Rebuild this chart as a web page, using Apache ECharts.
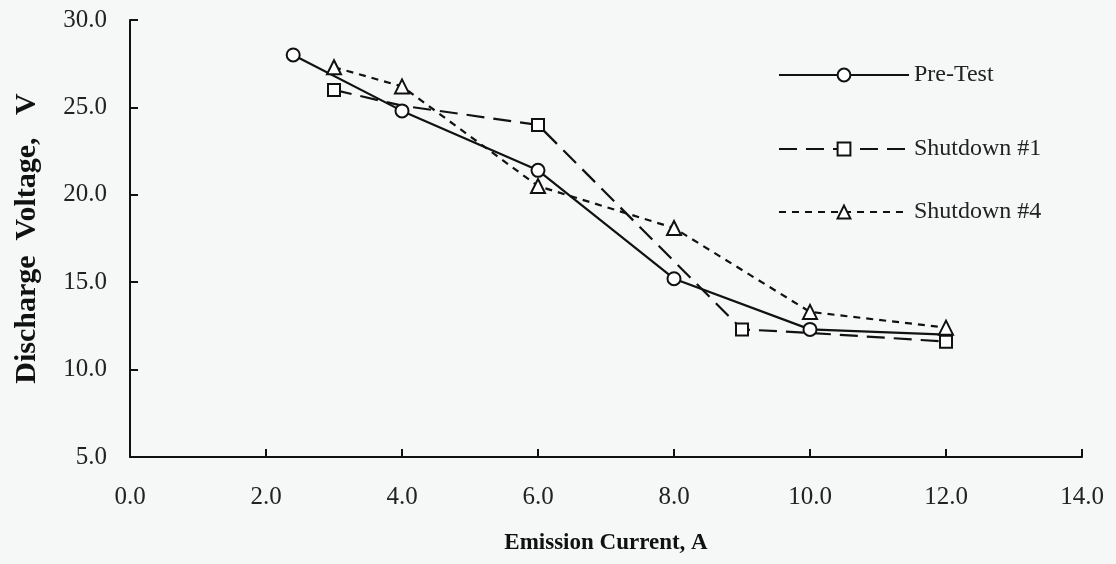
<!DOCTYPE html>
<html lang="en">

<head>
  <meta charset="UTF-8">
  <script src="https://cdn.jsdelivr.net/npm/echarts@6.0.0/dist/echarts.min.js"></script>
  <style>
    html, body { margin: 0; padding: 0; background: #f6f7f7; }
  </style>
</head>

<body>
  <div id="dischargeChart" style="width: 1116px;height:564px;"></div>

  <script type="text/javascript">

    // emission current [A] / discharge voltage [V]
    var preTestX = [2.4, 4.0, 6.0, 8.0, 10.0, 12.0];
    var preTestY = [28.0, 24.8, 21.4, 15.2, 12.3, 12.0];
    var preTestMarked = [true, true, true, true, true, false];

    var shutdown1X = [3.0, 4.0, 6.0, 9.0, 10.0, 12.0];
    var shutdown1Y = [26.0, 25.1, 24.0, 12.3, 12.1, 11.6];
    var shutdown1Marked = [true, false, true, true, false, true];

    var shutdown4X = [3.0, 4.0, 6.0, 8.0, 10.0, 12.0];
    var shutdown4Y = [27.3, 26.2, 20.5, 18.1, 13.3, 12.4];
    var shutdown4Marked = [true, true, true, true, true, true];

    var seriesNames = ['Pre-Test', 'Shutdown #1', 'Shutdown #4'];

    const font = '"Liberation Serif", "DejaVu Serif", serif';

    function toPoints(xs, ys, marked) {
      return xs.map((x, i) => marked[i]
        ? [x, ys[i]]
        : { value: [x, ys[i]], symbol: 'none' });
    }

    function makeSeries(name, data, symbol, size, dash) {
      return {
        name: name,
        type: 'line',
        data: data,
        symbol: symbol,
        symbolSize: size,
        showAllSymbol: true,
        z: 3,
        lineStyle: { color: '#111', width: 2.2, type: dash },
        itemStyle: { color: '#fff', borderColor: '#111', borderWidth: 2 }
      };
    }

    function legendFor(name, top) {
      return {
        data: [name],
        orient: 'vertical',
        left: 773,
        top: top,
        itemWidth: 130,
        itemHeight: 16,
        textStyle: { fontFamily: font, fontSize: 24, color: '#222', padding: [0, 0, 0, 0] }
      };
    }

    function createDischargeChart() {
      const chart = echarts.init(document.getElementById('dischargeChart'));

      let option = {
        backgroundColor: '#f6f7f7',
        animation: false,
        grid: { left: 130, right: 34, top: 20, bottom: 107, outerBoundsMode: 'none' },
        legend: [
          legendFor(seriesNames[0], 58),
          legendFor(seriesNames[1], 132),
          legendFor(seriesNames[2], 195)
        ],
        xAxis: {
          type: 'value',
          min: 0,
          max: 14,
          interval: 2,
          name: 'Emission Current, A',
          nameLocation: 'middle',
          nameGap: 75,
          nameTextStyle: { fontFamily: font, fontSize: 23, fontWeight: 'bold', color: '#111' },
          axisLine: { lineStyle: { color: '#111', width: 2 } },
          axisTick: { inside: true, length: 8, lineStyle: { color: '#111', width: 2 } },
          axisLabel: {
            margin: 28,
            fontFamily: font,
            fontSize: 25,
            color: '#222',
            formatter: v => v.toFixed(1)
          },
          splitLine: { show: false }
        },
        yAxis: {
          type: 'value',
          min: 5,
          max: 30,
          interval: 5,
          name: 'Discharge  Voltage,   V',
          nameLocation: 'middle',
          nameGap: 88,
          nameTextStyle: { fontFamily: font, fontSize: 30, fontWeight: 'bold', color: '#111' },
          axisLine: { show: true, lineStyle: { color: '#111', width: 2 } },
          axisTick: { show: true, inside: true, length: 8, lineStyle: { color: '#111', width: 2 } },
          axisLabel: {
            margin: 23,
            fontFamily: font,
            fontSize: 25,
            color: '#222',
            formatter: v => v.toFixed(1)
          },
          splitLine: { show: false }
        },
        series: [
          makeSeries(seriesNames[0], toPoints(preTestX, preTestY, preTestMarked), 'circle', 13, 'solid'),
          makeSeries(seriesNames[1], toPoints(shutdown1X, shutdown1Y, shutdown1Marked), 'rect', 12, [18, 9]),
          makeSeries(seriesNames[2], toPoints(shutdown4X, shutdown4Y, shutdown4Marked), 'triangle', 14, [7, 6])
        ]
      };

      chart.setOption(option);
    }
    createDischargeChart();
  </script>
</body>

</html>
